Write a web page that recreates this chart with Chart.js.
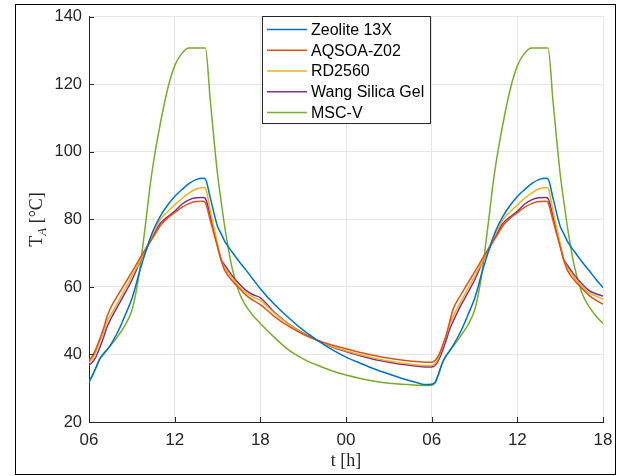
<!DOCTYPE html>
<html>
<head>
<meta charset="utf-8">
<script src="https://cdn.jsdelivr.net/npm/chart.js@4/dist/chart.umd.min.js"></script>
<style>
  html, body { margin: 0; padding: 0; background: #fff; }
  canvas { display: block; }
</style>
</head>
<body>
<canvas id="chart" width="621" height="476"></canvas>
<script>
// hours after 06:00 on day 1
const hours = [
  0, 0.25, 0.5, 0.75, 1, 1.25, 1.5, 2, 2.5, 3, 3.25, 3.5, 3.75, 4, 4.25, 4.5, 5, 5.5, 6, 6.5,
  7, 7.5, 8, 8.15, 8.5, 9, 9.25, 9.5, 10, 10.5, 11, 11.5, 12, 13, 14, 15, 16, 17, 18, 19,
  20, 21, 22, 23, 23.5, 24,
  24.25, 24.5, 24.75, 25, 25.25, 25.5, 26, 26.5, 27, 27.25, 27.5, 27.75, 28, 28.25, 28.5, 29,
  29.5, 30, 30.5, 31, 31.5, 32, 32.15, 32.5, 33, 33.25, 33.5, 34, 34.5, 35, 35.5, 36
];

const zeolite13x = [
  31.8, 33.8, 36.2, 38.6, 40.0, 41.3, 42.8, 46.5, 51.3, 56.5, 60.0, 64.0, 67.5, 70.8, 74.0,
  76.8, 81.0, 84.2, 86.8, 88.8, 90.6, 91.8, 92.2, 92.0, 86.3, 78.0, 75.8, 73.6, 70.5, 67.6,
  65.0, 62.2, 59.5, 54.8, 50.8, 47.2, 44.2, 41.5, 39.2, 37.4, 35.7, 34.2, 32.8, 31.6, 31.1, 31.2,
  31.8, 34.5, 37.5, 39.5, 41.0, 42.7, 46.5, 51.3, 56.5, 60.0, 64.0, 67.5, 70.8, 74.0, 76.8,
  81.0, 84.2, 86.8, 88.8, 90.6, 91.8, 92.2, 92.0, 86.3, 78.0, 75.8, 73.6, 70.5, 67.6, 65.0, 62.3, 59.8
];

const aqsoaZ02 = [
  38.2, 39.6, 41.8, 44.5, 47.5, 51.0, 53.7, 57.4, 60.9, 64.4, 66.2, 68.0, 69.8, 71.5, 73.1,
  74.8, 78.2, 80.4, 82.0, 83.6, 84.7, 85.3, 85.4, 85.0, 79.6, 71.9, 68.0, 65.0, 62.0, 59.7,
  57.6, 56.0, 54.8, 51.2, 48.3, 46.0, 44.2, 42.8, 41.7, 40.6, 39.7, 38.9, 38.3, 37.9, 37.7, 37.7,
  38.3, 39.8, 42.5, 45.5, 49.5, 53.4, 57.4, 60.9, 64.4, 66.2, 68.0, 69.8, 71.5, 73.1, 74.8,
  78.2, 80.4, 82.0, 83.6, 84.7, 85.3, 85.4, 85.0, 79.6, 71.9, 68.0, 65.0, 62.0, 59.7, 57.6, 56.1, 54.9
];

const rd2560 = [
  37.5, 38.8, 41.0, 43.8, 46.5, 49.6, 51.5, 55.3, 59.2, 63.1, 65.1, 67.0, 69.2, 71.5, 73.8,
  76.0, 80.0, 82.3, 84.3, 86.2, 87.8, 89.0, 89.5, 89.3, 82.5, 72.8, 68.0, 65.8, 62.8, 60.3,
  58.3, 57.0, 56.0, 52.2, 48.9, 46.2, 44.1, 42.4, 41.1, 39.9, 38.9, 38.1, 37.4, 36.9, 36.7, 36.7,
  37.3, 39.3, 42.3, 45.3, 48.8, 51.3, 55.3, 59.2, 63.1, 65.1, 67.0, 69.2, 71.5, 73.8, 76.0,
  80.0, 82.3, 84.3, 86.2, 87.8, 89.0, 89.5, 89.3, 82.5, 72.8, 68.0, 65.8, 62.8, 60.3, 58.3, 57.3, 56.4
];

const wangSilicaGel = [
  36.8, 37.8, 39.4, 42.0, 44.8, 48.0, 50.3, 54.2, 58.0, 62.0, 64.3, 66.8, 69.0, 71.0, 73.3,
  75.2, 78.9, 80.8, 82.4, 84.5, 85.8, 86.4, 86.5, 86.2, 81.0, 72.3, 68.3, 66.5, 63.5, 61.0,
  59.0, 57.7, 56.8, 52.4, 49.0, 46.3, 44.1, 42.3, 40.9, 39.6, 38.5, 37.7, 37.0, 36.5, 36.3, 36.3,
  36.8, 38.5, 41.0, 44.0, 47.3, 49.8, 54.2, 58.0, 62.0, 64.3, 66.8, 69.0, 71.0, 73.3, 75.2,
  78.9, 80.8, 82.4, 84.5, 85.8, 86.4, 86.5, 86.2, 81.0, 72.3, 68.3, 66.5, 63.5, 61.0, 59.0, 58.0, 57.3
];

const mscV = [
  31.8, 34.0, 36.3, 38.8, 40.2, 41.4, 42.6, 45.3, 48.5, 53.0, 57.5, 63.5, 71.5, 80.0, 89.0,
  96.5, 108.5, 118.5, 125.5, 129.2, 130.8, 130.8, 130.8, 130.8, 115.0, 93.5, 85.5, 78.0, 66.0, 58.5,
  54.3, 51.5, 49.2, 45.0, 41.3, 38.7, 36.8, 35.2, 33.9, 32.9, 32.1, 31.5, 31.2, 30.9, 30.8, 30.9,
  31.6, 34.3, 37.6, 39.6, 41.0, 42.4, 45.3, 48.5, 53.0, 57.5, 63.5, 71.5, 80.0, 89.0, 96.5,
  108.5, 118.5, 125.5, 129.2, 130.8, 130.8, 130.8, 130.8, 115.0, 93.5, 85.5, 78.0, 66.0, 58.5, 54.3, 51.5, 49.2
];

const seriesNames = ["Zeolite 13X", "AQSOA-Z02", "RD2560", "Wang Silica Gel", "MSC-V"];
const seriesValues = [zeolite13x, aqsoaZ02, rd2560, wangSilicaGel, mscV];
const seriesColors = ["#0072BD", "#D95319", "#EDB120", "#7E2F8E", "#77AC30"];

const xTickHours = [0, 6, 12, 18, 24, 30, 36];
const xTickLabels = ["06", "12", "18", "00", "06", "12", "18"];
const yTicks = [20, 40, 60, 80, 100, 120, 140];

const AXIS = "#262626";
const SANS = "'Liberation Sans', Arial, Helvetica, sans-serif";
const SERIF = "'Liberation Serif', 'DejaVu Serif', serif";

// legend box, axis titles, inward ticks and figure frame
const decorations = {
  id: "decorations",
  afterDraw(chart) {
    const ctx = chart.ctx;
    const xs = chart.scales.x;
    const ys = chart.scales.y;
    const area = chart.chartArea;
    ctx.save();

    // inward tick marks (MATLAB style)
    ctx.strokeStyle = AXIS;
    ctx.lineWidth = 1;
    ctx.beginPath();
    xTickHours.forEach((h) => {
      const px = Math.round(xs.getPixelForValue(h)) + 0.5;
      ctx.moveTo(px, area.bottom);
      ctx.lineTo(px, area.bottom - 5);
    });
    yTicks.forEach((v) => {
      const py = Math.round(ys.getPixelForValue(v)) + 0.5;
      ctx.moveTo(area.left, py);
      ctx.lineTo(area.left + 5, py);
    });
    ctx.stroke();

    // legend
    const lx = 262, ly = 16, lw = 168, lh = 107;
    ctx.fillStyle = "#fff";
    ctx.fillRect(lx, ly, lw, lh);
    ctx.strokeStyle = "#262626";
    ctx.lineWidth = 1;
    ctx.strokeRect(lx + 0.5, ly + 0.5, lw, lh);
    ctx.font = "16px " + SANS;
    ctx.textBaseline = "middle";
    ctx.textAlign = "left";
    chart.data.datasets.forEach((ds, i) => {
      const cy = 29.5 + i * 20.75;
      ctx.strokeStyle = ds.borderColor;
      ctx.lineWidth = 1.5;
      ctx.beginPath();
      ctx.moveTo(lx + 5, cy);
      ctx.lineTo(lx + 45, cy);
      ctx.stroke();
      ctx.fillStyle = "#000";
      ctx.fillText(ds.label, lx + 49, cy + 1);
    });

    // y title: T_A [°C]
    ctx.fillStyle = AXIS;
    ctx.translate(36, (area.top + area.bottom) / 2);
    ctx.rotate(-Math.PI / 2);
    const mainFont = "18px " + SERIF;
    const subFont = "italic 13px " + SERIF;
    ctx.font = mainFont;
    const wT = ctx.measureText("T").width;
    const wRest = ctx.measureText(" [°C]").width;
    ctx.font = subFont;
    const wA = ctx.measureText("A").width;
    let x0 = -(wT + wA + wRest) / 2;
    ctx.textBaseline = "alphabetic";
    ctx.font = mainFont;
    ctx.fillText("T", x0, 6);
    ctx.font = subFont;
    ctx.fillText("A", x0 + wT, 10);
    ctx.font = mainFont;
    ctx.fillText(" [°C]", x0 + wT + wA, 6);
    ctx.setTransform(1, 0, 0, 1, 0, 0);

    // x title
    ctx.font = "18px " + SERIF;
    ctx.textAlign = "center";
    ctx.textBaseline = "alphabetic";
    ctx.fillText("t [h]", (area.left + area.right) / 2, 466);

    // figure frame
    ctx.strokeStyle = "#000";
    ctx.lineWidth = 1;
    ctx.strokeRect(15.5, 4.5, 600, 470);
    ctx.restore();
  }
};

const whiteBg = {
  id: "whiteBg",
  beforeDraw(chart) {
    const ctx = chart.ctx;
    ctx.save();
    ctx.fillStyle = "#fff";
    ctx.fillRect(0, 0, chart.width, chart.height);
    ctx.restore();
  }
};

new Chart(document.getElementById("chart"), {
  type: "line",
  data: {
    datasets: seriesNames.map((name, i) => ({
      label: name,
      data: hours.map((h, j) => ({ x: h, y: seriesValues[i][j] })),
      borderColor: seriesColors[i],
      backgroundColor: seriesColors[i],
      borderWidth: 1.5,
      pointRadius: 0,
      cubicInterpolationMode: "monotone",
      fill: false
    }))
  },
  options: {
    responsive: false,
    animation: false,
    devicePixelRatio: 1,
    layout: { padding: { left: 0, top: 14, right: 18, bottom: 0 } },
    plugins: {
      legend: { display: false },
      tooltip: { enabled: false }
    },
    scales: {
      x: {
        type: "linear",
        min: 0,
        max: 36,
        afterBuildTicks: (scale) => { scale.ticks = xTickHours.map((v) => ({ value: v })); },
        afterFit: (scale) => { scale.height = 54; },
        ticks: {
          callback: (v) => xTickLabels[xTickHours.indexOf(v)],
          font: { family: SANS, size: 17 },
          color: AXIS,
          padding: 8,
          maxRotation: 0
        },
        grid: { color: "#e6e6e6", drawTicks: false },
        border: { color: AXIS }
      },
      y: {
        min: 20,
        max: 140,
        afterBuildTicks: (scale) => { scale.ticks = yTicks.map((v) => ({ value: v })); },
        afterFit: (scale) => { scale.width = 89; },
        ticks: {
          font: { family: SANS, size: 16.5 },
          color: AXIS,
          padding: 7
        },
        grid: { color: "#e6e6e6", drawTicks: false },
        border: { color: AXIS }
      }
    }
  },
  plugins: [whiteBg, decorations]
});
</script>
</body>
</html>
